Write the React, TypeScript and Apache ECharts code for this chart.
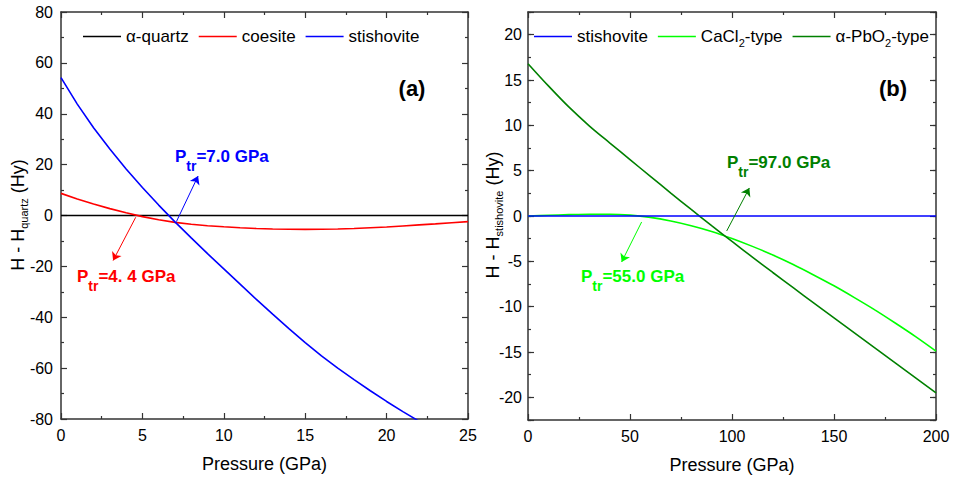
import React, { useEffect, useRef } from "react";
import * as echarts from "echarts";

const FONT = "'Liberation Sans', Arial, Helvetica, sans-serif";

// ---------- Panel (a) ----------
const quartzP = [0, 25];
const quartzH = [0, 0];

const coesiteP = [0, 1, 2, 3, 4, 5, 6, 7, 8, 9, 10, 11, 12, 13, 14, 15, 16, 17, 18, 19, 20, 21, 22, 23, 24, 25];
const coesiteH = [8.7, 6.5, 4.5, 2.7, 1.05, -0.45, -1.7, -2.7, -3.45, -4.0, -4.45, -4.8, -5.1, -5.3, -5.4, -5.45, -5.4, -5.3, -5.1, -4.8, -4.5, -4.1, -3.7, -3.3, -2.85, -2.4];

const stishAP = [0, 1, 2, 3, 4, 5, 6, 7, 8, 9, 10, 11, 12, 13, 14, 15, 16, 17, 18, 19, 20, 21, 22];
const stishAH = [54.2, 43.8, 34.5, 26.1, 18.3, 11.0, 4.1, -2.5, -8.8, -15.0, -21.0, -27.0, -33.0, -38.8, -44.5, -50.0, -55.2, -60.0, -64.5, -68.9, -73.1, -77.1, -80.9];

// arrows (start -> tip) in data units
const arrowStishA = [[7.09, -2.4], [8.42, 15.5]];
const arrowCoesA = [[4.59, -0.7], [3.2, -17.7]];

// ---------- Panel (b) ----------
const pressureB = [0, 10, 20, 30, 40, 50, 60, 70, 80, 90, 100, 110, 120, 130, 140, 150, 160, 170, 180, 190, 200];
const cacl2H = [0, 0.08, 0.15, 0.2, 0.2, 0.1, -0.15, -0.55, -1.07, -1.7, -2.48, -3.35, -4.3, -5.35, -6.5, -7.7, -9.0, -10.35, -11.8, -13.3, -14.9];
const pbo2H = [16.8, 14.35, 12.03, 9.95, 8.07, 6.22, 4.37, 2.53, 0.72, -1.06, -2.81, -4.53, -6.23, -7.91, -9.58, -11.24, -12.9, -14.55, -16.2, -17.85, -19.5];
const stishBP = [0, 200];
const stishBH = [0, 0];

const arrowCacl2 = [[55.7, -0.66], [45.9, -5.07]];
const arrowPbo2 = [[97.4, -1.65], [108.5, 3.09]];

const legendA = ["α-quartz", "coesite", "stishovite"];
const legendB = ["stishovite", "CaCl2-type", "α-PbO2-type"];

const xTicksA = { min: 0, max: 25, interval: 5 };
const yTicksA = { min: -80, max: 80, interval: 20 };
const xTicksB = { min: 0, max: 200, interval: 50 };
const yTicksB = { min: -22.5, max: 22.5, major: 5, minor: 2.5 };

const AXIS_COLOR = "#333";

const zip = (xs: number[], ys: number[]) => xs.map((x, i) => [x, ys[i]]);

function arrowLine(a: number[][], color: string) {
  return {
    silent: true,
    symbol: ["none", "arrow"],
    symbolSize: 8,
    label: { show: false },
    emphasis: { disabled: true },
    lineStyle: { color, width: 1, type: "solid" },
    data: [[{ coord: a[0] }, { coord: a[1] }]],
  };
}

function xAxis(grid: number, t: any, pos: "bottom" | "top", labels: boolean) {
  return {
    type: "value",
    gridIndex: grid,
    position: pos,
    min: t.min,
    max: t.max,
    interval: t.interval,
    axisLine: { show: true, onZero: false, lineStyle: { color: AXIS_COLOR, width: 1.5 } },
    axisTick: { show: true, inside: true, length: 6, lineStyle: { color: AXIS_COLOR, width: 1.2 } },
    minorTick: { show: true, splitNumber: 2, length: 3, lineStyle: { color: AXIS_COLOR, width: 1.2 } },
    axisLabel: { show: labels, color: "#000", fontSize: 16, margin: 8, fontFamily: FONT },
    splitLine: { show: false },
    minorSplitLine: { show: false },
    name: labels ? "Pressure (GPa)" : "",
    nameLocation: "middle",
    nameGap: 36,
    nameTextStyle: { color: "#000", fontSize: 18, fontFamily: FONT, verticalAlign: "top" },
  };
}

function yAxisA(pos: "left" | "right", labels: boolean) {
  return {
    type: "value",
    gridIndex: 0,
    position: pos,
    min: yTicksA.min,
    max: yTicksA.max,
    interval: yTicksA.interval,
    axisLine: { show: true, onZero: false, lineStyle: { color: AXIS_COLOR, width: 1.5 } },
    axisTick: { show: true, inside: true, length: 6, lineStyle: { color: AXIS_COLOR, width: 1.2 } },
    minorTick: { show: true, splitNumber: 2, length: 3, lineStyle: { color: AXIS_COLOR, width: 1.2 } },
    axisLabel: { show: labels, color: "#000", fontSize: 16, margin: 8, fontFamily: FONT },
    splitLine: { show: false },
  };
}

function yAxisBMajor(pos: "left" | "right", labels: boolean) {
  return {
    type: "value",
    gridIndex: 1,
    position: pos,
    min: yTicksB.min,
    max: yTicksB.max,
    minInterval: yTicksB.major,
    maxInterval: yTicksB.major,
    splitNumber: 9,
    axisLine: { show: true, onZero: false, lineStyle: { color: AXIS_COLOR, width: 1.5 } },
    axisTick: { show: true, inside: true, length: 6, lineStyle: { color: AXIS_COLOR, width: 1.2 } },
    minorTick: { show: false },
    axisLabel: {
      show: labels,
      color: "#000",
      fontSize: 16,
      margin: 6,
      fontFamily: FONT,
      formatter: (v: number) => (Math.abs(v) > 20.01 || Math.abs(v % yTicksB.major) > 1e-6 ? "" : String(v)),
    },
    splitLine: { show: false },
  };
}

function yAxisBMinor(pos: "left" | "right") {
  return {
    type: "value",
    gridIndex: 1,
    position: pos,
    min: yTicksB.min,
    max: yTicksB.max,
    interval: yTicksB.minor,
    axisLine: { show: false, onZero: false },
    axisTick: { show: true, inside: true, length: 3, lineStyle: { color: AXIS_COLOR, width: 1.2 } },
    axisLabel: { show: false },
    splitLine: { show: false },
  };
}

function lineSeries(name: string, xi: number, yi: number, data: number[][], color: string, z = 2, smooth: any = false) {
  return {
    type: "line",
    name,
    xAxisIndex: xi,
    yAxisIndex: yi,
    data,
    symbol: "none",
    showSymbol: false,
    smooth,
    z,
    lineStyle: { color, width: 1.6 },
    itemStyle: { color },
    emphasis: { disabled: true },
  };
}

function annotation(x: number, y: number, value: string, color: string) {
  return {
    type: "text",
    x,
    y,
    silent: true,
    style: {
      text: `{p|P}{s|tr}{p|=${value} GPa}`,
      align: "left",
      verticalAlign: "middle",
      fill: color,
      rich: {
        p: { fontSize: 17, fontWeight: "bold", fontFamily: FONT, fill: color, verticalAlign: "middle" },
        s: { fontSize: 14, fontWeight: "bold", fontFamily: FONT, fill: color, verticalAlign: "middle", padding: [20, 0, 0, 0] },
      },
    },
  };
}

function yName(x: number, y: number, sub: string) {
  return {
    type: "text",
    x,
    y,
    rotation: Math.PI / 2,
    silent: true,
    style: {
      text: `{m|H - H}{s|${sub}}{m| (Hy)}`,
      align: "center",
      verticalAlign: "middle",
      fill: "#000",
      rich: {
        m: { fontSize: 18, fontFamily: FONT, fill: "#000", verticalAlign: "middle" },
        s: { fontSize: 11, fontFamily: FONT, fill: "#000", verticalAlign: "middle", padding: [12, 0, 0, 0] },
      },
    },
  };
}

export default function App() {
  const ref = useRef<HTMLDivElement>(null);

  useEffect(() => {
    if (!ref.current) return;
    const chart = echarts.init(ref.current, null, { renderer: "svg" });

    const s1: any = lineSeries("coesite", 0, 0, zip(coesiteP, coesiteH), "#ff0000");
    s1.markLine = arrowLine(arrowCoesA, "#ff0000");
    const s2: any = lineSeries("stishovite", 0, 0, zip(stishAP, stishAH), "#0000ff");
    s2.markLine = arrowLine(arrowStishA, "#0000ff");
    const s3: any = lineSeries("CaCl2-type", 2, 2, zip(pressureB, cacl2H), "#00ff00", 2, 0.3);
    s3.markLine = arrowLine(arrowCacl2, "#00ff00");
    const s4: any = lineSeries("α-PbO2-type", 2, 2, zip(pressureB, pbo2H), "#008000", 2, 0.3);
    s4.markLine = arrowLine(arrowPbo2, "#008000");

    const legendBase = {
      orient: "horizontal",
      top: 28,
      itemWidth: 38,
      itemHeight: 14,
      itemGap: 10,
      padding: 0,
      selectedMode: false,
      icon: "path://M0,0H38V1.6H0Z",
      textStyle: {
        color: "#000",
        fontSize: 17,
        fontFamily: FONT,
        rich: {
          s: { fontSize: 11, fontFamily: FONT, color: "#000", verticalAlign: "middle", padding: [12, 0, 0, 0] },
        },
      },
      formatter: (n: string) => n.replace("2", "{s|2}"),
    };

    chart.setOption({
      animation: false,
      textStyle: { fontFamily: FONT },
      grid: [
        { left: 61, top: 12, width: 407, height: 407, outerBoundsMode: "none" },
        { left: 528, top: 12, width: 408, height: 408, outerBoundsMode: "none" },
      ],
      legend: [
        { ...legendBase, left: 83, data: legendA },
        { ...legendBase, left: 534, data: legendB },
      ],
      xAxis: [
        xAxis(0, xTicksA, "bottom", true),
        xAxis(0, xTicksA, "top", false),
        xAxis(1, xTicksB, "bottom", true),
        xAxis(1, xTicksB, "top", false),
      ],
      yAxis: [
        yAxisA("left", true),
        yAxisA("right", false),
        yAxisBMajor("left", true),
        yAxisBMinor("left"),
        yAxisBMajor("right", false),
        yAxisBMinor("right"),
      ],
      series: [
        lineSeries("α-quartz", 0, 0, zip(quartzP, quartzH), "#000000"),
        s1,
        s2,
        s3,
        s4,
        lineSeries("stishovite", 2, 2, zip(stishBP, stishBH), "#0000ff", 3),
      ],
      graphic: [
        yName(18, 215, "quartz"),
        yName(493, 215, "stishovite"),
        { type: "text", x: 412, y: 88, silent: true, style: { text: "(a)", align: "center", verticalAlign: "middle", fill: "#000", fontSize: 22, fontWeight: "bold", fontFamily: FONT } },
        { type: "text", x: 893, y: 88, silent: true, style: { text: "(b)", align: "center", verticalAlign: "middle", fill: "#000", fontSize: 22, fontWeight: "bold", fontFamily: FONT } },
        annotation(175, 156, "7.0", "#0000ff"),
        annotation(77, 276, "4. 4", "#ff0000"),
        annotation(581, 276, "55.0", "#00ff00"),
        annotation(727, 162, "97.0", "#008000"),
      ],
    });

    return () => chart.dispose();
  }, []);

  return (
    <div
      ref={ref}
      style={{ position: "fixed", left: 0, top: 0, width: 957, height: 481, background: "#fff" }}
    />
  );
}
